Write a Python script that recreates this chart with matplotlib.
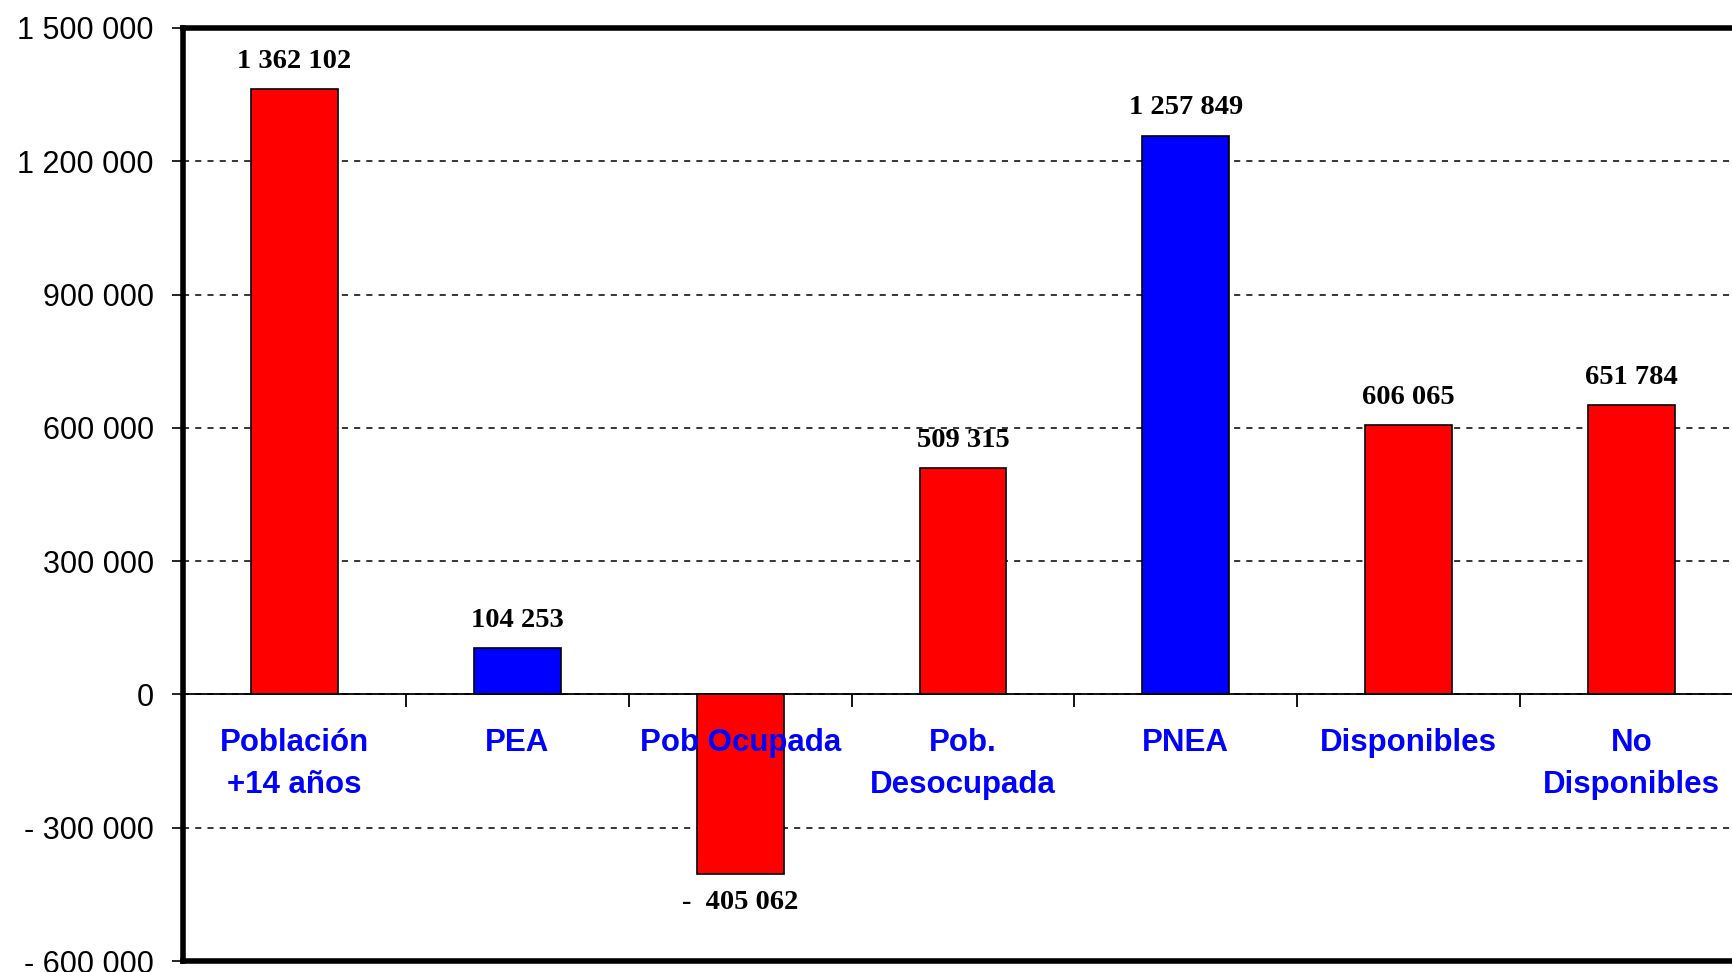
import matplotlib
matplotlib.use("Agg")
import matplotlib.pyplot as plt
from matplotlib.ticker import FixedLocator, FuncFormatter

categories = ["Población\n+14 años", "PEA", "Pob Ocupada", "Pob.\nDesocupada",
              "PNEA", "Disponibles", "No\nDisponibles"]
values = [1362102, 104253, -405062, 509315, 1257849, 606065, 651784]
bar_colors = ["#FF0000", "#0000FF", "#FF0000", "#FF0000", "#0000FF", "#FF0000", "#FF0000"]
y_ticks = [-600000, -300000, 0, 300000, 600000, 900000, 1200000, 1500000]


def fmt_num(v, gap="  "):
    s = f"{abs(int(v)):,}".replace(",", " ")
    return ("-" + gap + s) if v < 0 else s


fig = plt.figure(figsize=(17.32, 9.72), dpi=100)
ax = fig.add_axes([183 / 1732, 11 / 972, 1560 / 1732, 933 / 972])

x = list(range(len(categories)))
ax.bar(x, values, width=0.39, color=bar_colors, edgecolor="black", linewidth=1.2, zorder=3)

ax.set_xlim(-0.5, len(categories) - 0.5)
ax.set_ylim(y_ticks[0], y_ticks[-1])

# y axis
ax.yaxis.set_major_locator(FixedLocator(y_ticks))
ax.yaxis.set_major_formatter(FuncFormatter(lambda v, p: fmt_num(v, " ")))
ax.tick_params(axis="y", direction="out", length=8, width=1.2, pad=13,
               labelsize=22, colors="black")
for lab in ax.get_yticklabels():
    lab.set_fontfamily("Liberation Sans")

ax.grid(axis="y", color="black", linestyle=(0, (4, 4)), linewidth=1.1, zorder=1)

# x axis at zero with boundary ticks
ax.spines["bottom"].set_position(("data", 0))
ax.spines["bottom"].set_linewidth(1.3)
ax.spines["right"].set_visible(False)
ax.spines["left"].set_linewidth(4)
ax.spines["top"].set_linewidth(4)
ax.spines["bottom"].set_zorder(4)
ax.xaxis.set_major_locator(FixedLocator([i + 0.5 for i in range(len(categories) - 1)]))
ax.tick_params(axis="x", direction="out", length=9, width=1.3, labelbottom=False)
ax.axhline(y_ticks[0], color="black", linewidth=4, clip_on=False, zorder=5)

# category labels
for i, c in enumerate(categories):
    ax.annotate(c, xy=(i, 0), xytext=(0, -24), textcoords="offset points",
                ha="center", va="top", fontsize=22.5, fontweight="bold",
                color="#0000FF", family="Liberation Sans", linespacing=1.55, zorder=6)

# value labels
for i, v in enumerate(values):
    off = 20 if v >= 0 else -20
    ax.annotate(fmt_num(v), xy=(i, v), xytext=(0, off), textcoords="offset points",
                ha="center", va="center", fontsize=20.5, fontweight="bold",
                color="black", family="Liberation Serif", zorder=6)

fig.savefig("out.png", dpi=100)
